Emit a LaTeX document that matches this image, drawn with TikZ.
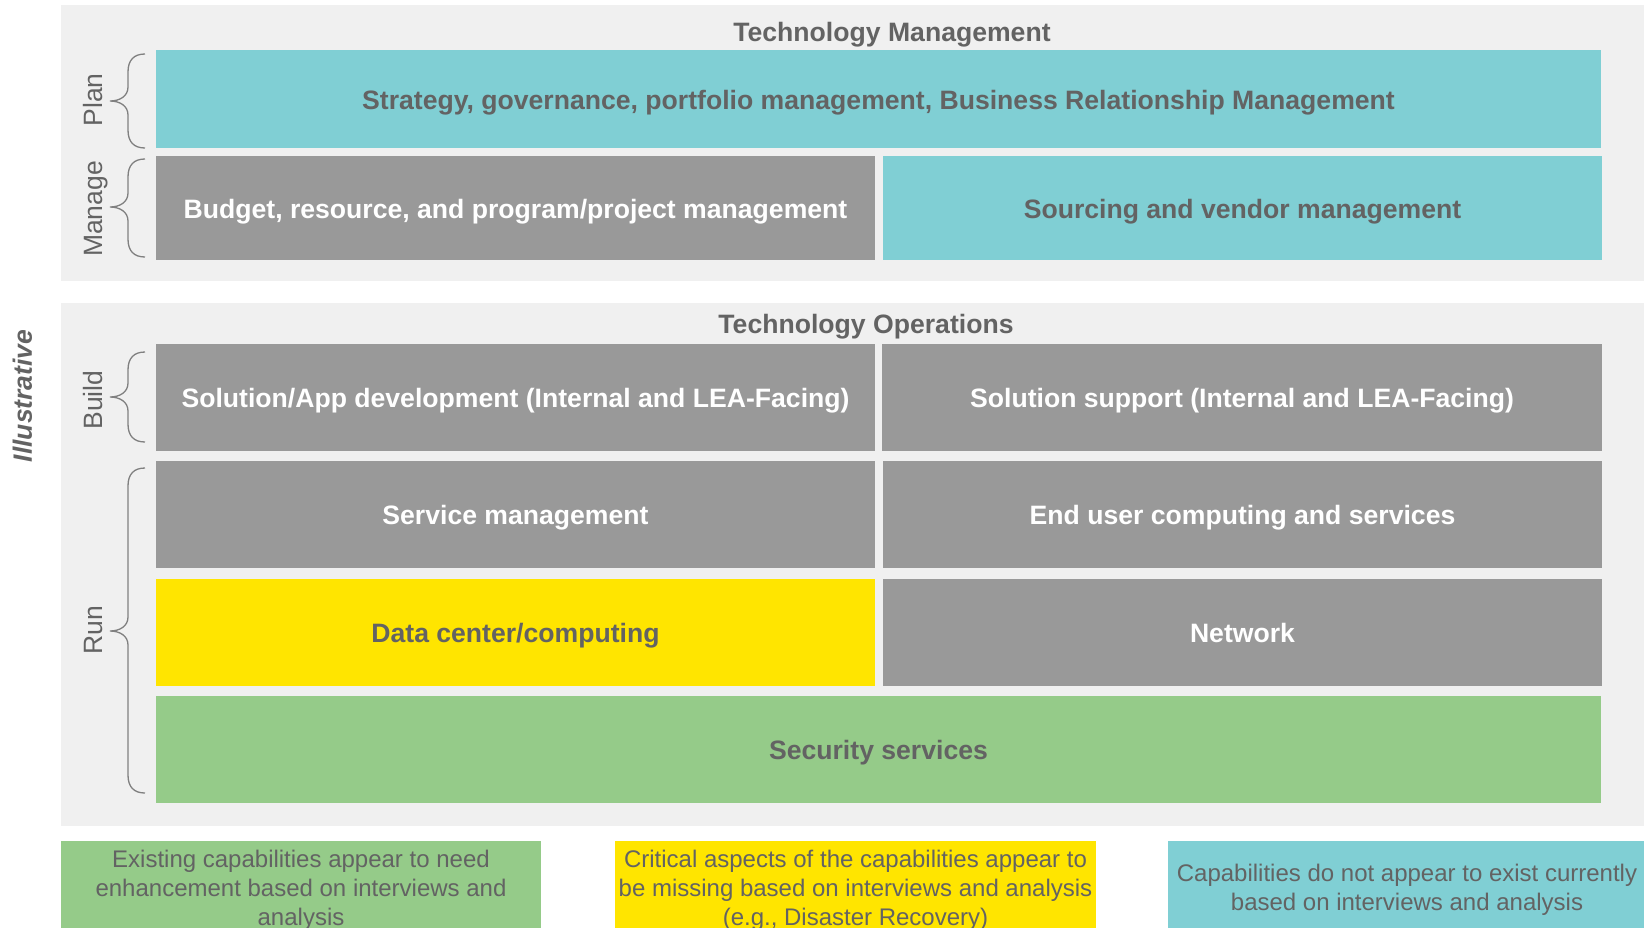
\documentclass[tikz,border=0pt]{standalone}
\usepackage{fontspec}
\setmainfont{Liberation Sans}
\definecolor{panelbg}{HTML}{F0F0F0}
\definecolor{cellgray}{HTML}{999999}
\definecolor{cellcyan}{HTML}{80CFD4}
\definecolor{cellyellow}{HTML}{FFE500}
\definecolor{cellgreen}{HTML}{95CB89}
\definecolor{txtgray}{HTML}{636363}
\definecolor{bracegray}{HTML}{808080}
\newcommand\mybrace[3]{%
  \draw[bracestyle] (145,#1) .. controls (134,#1) and (128,#1+6) .. (128,#1+18)
    -- (128,#2-14) .. controls (128,#2-5) and (120,#2) .. (110,#2)
    .. controls (120,#2) and (128,#2+5) .. (128,#2+14)
    -- (128,#3-18) .. controls (128,#3-6) and (134,#3) .. (145,#3);}
\begin{document}
\begin{tikzpicture}[x=0.5pt,y=-0.5pt,
  cell/.style 2 args={draw=none,inner sep=0pt,minimum width=#1*0.5pt,minimum height=#2*0.5pt,
    font=\fontsize{13.3}{16}\selectfont\bfseries,text height=12pt,text depth=1.8pt},
  graycell/.style={fill=cellgray,text=white},
  cyancell/.style={fill=cellcyan,text=txtgray},
  yellowcell/.style={fill=cellyellow,text=txtgray},
  greencell/.style={fill=cellgreen,text=txtgray},
  legbox/.style={draw=none,inner sep=0pt,minimum width=#1*0.5pt,minimum height=92*0.5pt},
  legtext/.style={inner sep=0pt,font=\fontsize{12}{14.4}\selectfont,text=txtgray,align=center},
  panel/.style={fill=panelbg,draw=none},
  title/.style={font=\fontsize{13.3}{16}\selectfont\bfseries,text=txtgray,anchor=base,inner sep=0pt},
  sidelabel/.style={font=\fontsize{13.25}{16}\selectfont,text=txtgray,rotate=90,anchor=base,inner sep=0pt},
  bracestyle/.style={draw=bracegray,line width=0.65pt}
]
\useasboundingbox (0,0) rectangle (1644,927);
% panels
\fill[panel] (61,5) rectangle (1660,281);
\fill[panel] (61,303) rectangle (1660,826);
% titles
\node[title] (tm) at (892,41) {Technology Management};
\node[title] (to) at (866,333) {Technology Operations};
% cells
\node[cell={1445}{98},cyancell] (strat) at (878.5,99) {Strategy, governance, portfolio management, Business Relationship Management};
\node[cell={719}{104},graycell] (budget) at (515.5,208) {Budget, resource, and program/project management};
\node[cell={719}{104},cyancell] (sourcing) at (1242.5,208) {Sourcing and vendor management};
\node[cell={719}{107},graycell] (soldev) at (515.5,397.5) {Solution/App development (Internal and LEA-Facing)};
\node[cell={720}{107},graycell] (solsup) at (1242,397.5) {Solution support (Internal and LEA-Facing)};
\node[cell={719}{107},graycell] (service) at (515.5,514.5) {Service management};
\node[cell={719}{107},graycell] (enduser) at (1242.5,514.5) {End user computing and services};
\node[cell={719}{107},yellowcell] (datac) at (515.5,632.5) {Data center/computing};
\node[cell={719}{107},graycell] (network) at (1242.5,632.5) {Network};
\node[cell={1445}{107},greencell] (security) at (878.5,749.5) {Security services};
% braces and labels
\mybrace{54}{101}{148}
\mybrace{159}{207}{257}
\mybrace{352}{397}{442}
\mybrace{468}{631}{793}
\node[sidelabel] (plan) at (102,100) {Plan};
\node[sidelabel] (manage) at (102,209) {Manage};
\node[sidelabel] (build) at (102,400) {Build};
\node[sidelabel] (run) at (102,630) {Run};
\node[sidelabel,font=\fontsize{13.25}{16}\selectfont\bfseries\itshape] (illus) at (32,396) {Illustrative};
% legend
\node[legbox={480},fill=cellgreen] (leg1) at (301,887) {};
\node[legtext] (leg1t) at ([yshift=-1.5pt]leg1.center) {Existing capabilities appear to need\\enhancement based on interviews and\\analysis};
\node[legbox={481},fill=cellyellow] (leg2) at (855.5,887) {};
\node[legtext] (leg2t) at ([yshift=-1.5pt]leg2.center) {Critical aspects of the capabilities appear to\\be missing based on interviews and analysis\\(e.g., Disaster Recovery)};
\node[legbox={478},fill=cellcyan] (leg3) at (1407,887) {};
\node[legtext] (leg3t) at ([yshift=-1.5pt]leg3.center) {Capabilities do not appear to exist currently\\based on interviews and analysis};
\end{tikzpicture}
\end{document}
